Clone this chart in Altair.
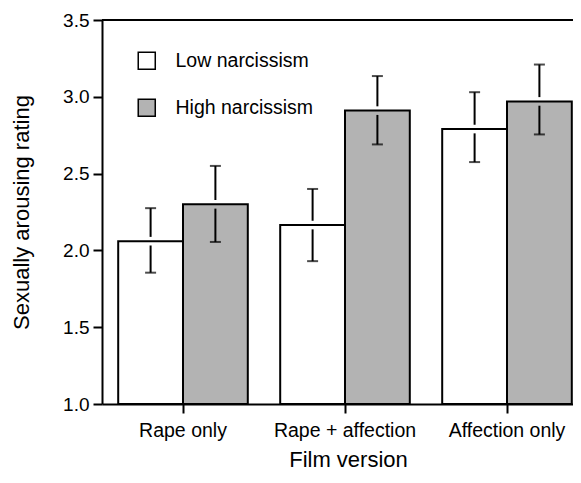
import altair as alt
import pandas as pd

films = ["Rape only", "Rape + affection", "Affection only"]
groups = ["Low narcissism", "High narcissism"]

low_mean = [2.06, 2.165, 2.79]
low_lo = [1.855, 1.93, 2.575]
low_hi = [2.275, 2.40, 3.03]

high_mean = [2.30, 2.91, 2.97]
high_lo = [2.055, 2.69, 2.755]
high_hi = [2.55, 3.135, 3.21]

fills = ["white", "#b3b3b3"]
GAP = 0.028  # visual break of the error line where it meets the bar top

rows = []
for i, f in enumerate(films):
    rows.append(dict(film=f, group=groups[0], mean=low_mean[i], lo=low_lo[i], hi=low_hi[i]))
    rows.append(dict(film=f, group=groups[1], mean=high_mean[i], lo=high_lo[i], hi=high_hi[i]))
df = pd.DataFrame(rows)
df["base"] = 1.0
df["up_start"] = df["mean"] + GAP
df["dn_end"] = df["mean"] - GAP

FONT = "Liberation Sans"

x_enc = alt.X(
    "film:N",
    sort=films,
    scale=alt.Scale(range=[0, 486], paddingInner=0.2, paddingOuter=0.1),
    axis=alt.Axis(
        title="Film version",
        labelAngle=0,
        labelFontSize=19.5,
        labelPadding=8,
        tickSize=9,
        tickWidth=2,
        tickColor="black",
        domainColor="black",
        domainWidth=2,
        labelColor="black",
        titleFontSize=22,
        titleFontWeight="normal",
        titleColor="black",
        titleX=246,
        titleY=62,
        titleBaseline="alphabetic",
        titleAlign="center",
    ),
)
xoff = alt.XOffset("group:N", sort=groups, scale=alt.Scale(paddingInner=0, paddingOuter=0))
y_scale = alt.Scale(domain=[1.0, 3.5], nice=False, zero=False)

base = alt.Chart(df)

bars = base.mark_bar(stroke="black", strokeWidth=2).encode(
    x=x_enc,
    xOffset=xoff,
    y=alt.Y(
        "mean:Q",
        scale=y_scale,
        axis=alt.Axis(
            title="Sexually arousing rating",
            values=[1.0, 1.5, 2.0, 2.5, 3.0, 3.5],
            format=".1f",
            grid=False,
            labelFontSize=19,
            labelPadding=4,
            labelColor="black",
            tickSize=9,
            tickWidth=2,
            tickColor="black",
            domainColor="black",
            domainWidth=2,
            titleFontSize=22,
            titleFontWeight="normal",
            titleColor="black",
            titleAngle=270,
            titleX=-73.5,
            titleY=192,
            titleBaseline="alphabetic",
            titleAlign="center",
        ),
    ),
    y2="base:Q",
    fill=alt.Fill(
        "group:N",
        sort=groups,
        scale=alt.Scale(domain=groups, range=fills),
        legend=alt.Legend(
            title=None,
            orient="none",
            legendX=35,
            legendY=31,
            symbolType="square",
            symbolSize=290,
            symbolStrokeColor="black",
            symbolStrokeWidth=1.5,
            labelFontSize=19.5,
            labelColor="black",
            labelOffset=19,
            rowPadding=23,
            padding=0,
        ),
    ),
)

err_up = base.mark_rule(color="black", strokeWidth=2).encode(
    x=alt.X("film:N", sort=films), xOffset=xoff, y="up_start:Q", y2="hi:Q"
)
err_dn = base.mark_rule(color="black", strokeWidth=2).encode(
    x=alt.X("film:N", sort=films), xOffset=xoff, y="lo:Q", y2="dn_end:Q"
)
cap_hi = base.mark_tick(orient="horizontal", size=11, thickness=2, color="black").encode(
    x=alt.X("film:N", sort=films), xOffset=xoff, y="hi:Q"
)
cap_lo = base.mark_tick(orient="horizontal", size=11, thickness=2, color="black").encode(
    x=alt.X("film:N", sort=films), xOffset=xoff, y="lo:Q"
)

top_line = alt.Chart(pd.DataFrame({"v": [3.5]})).mark_rule(color="black", strokeWidth=2).encode(
    y=alt.Y("v:Q", scale=y_scale)
)

chart = (
    alt.layer(bars, err_up, err_dn, cap_hi, cap_lo, top_line)
    .properties(
        width=471,
        height=384,
        autosize=alt.AutoSizeParams(type="none"),
        padding={"left": 94, "top": 12, "right": 0, "bottom": 67},
    )
    .configure(font=FONT)
    .configure_view(strokeWidth=0)
)

chart.save("out.html", embed_options={"renderer": "svg", "actions": False})
